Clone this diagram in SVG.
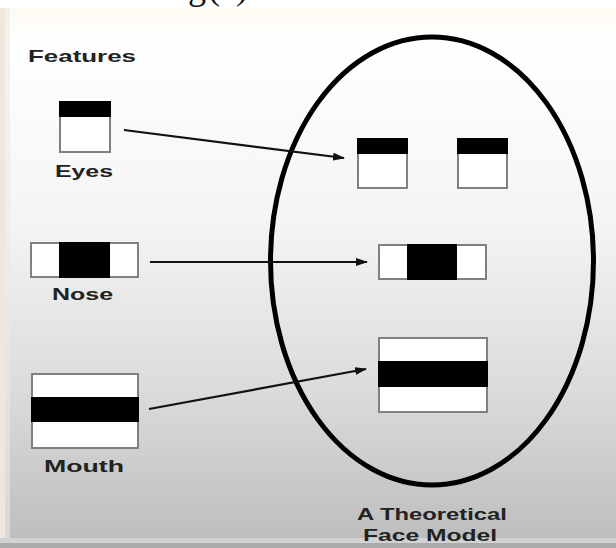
<svg xmlns="http://www.w3.org/2000/svg" width="616" height="548" viewBox="0 0 616 548">
  <defs>
    <linearGradient id="bg" x1="0" y1="0" x2="0" y2="1">
      <stop offset="0" stop-color="#fdfaf1"/>
      <stop offset="0.06" stop-color="#ffffff"/>
      <stop offset="0.4" stop-color="#f4f4f4"/>
      <stop offset="0.7" stop-color="#dcdcdc"/>
      <stop offset="1" stop-color="#bcbcbc"/>
    </linearGradient>
    <marker id="arrow" markerWidth="12" markerHeight="8" refX="11" refY="4" orient="auto" markerUnits="userSpaceOnUse">
      <path d="M0,0 L12,4 L0,8 Z" fill="#111"/>
    </marker>
    <style>
      .lbl { font-family: "Liberation Sans", Arial, sans-serif; font-weight: bold; fill: #222; }
      .box { fill: #ffffff; stroke: #808080; stroke-width: 2; }
      .band { fill: #000000; }
      .conn { stroke: #111; stroke-width: 2.2; fill: none; marker-end: url(#arrow); }
    </style>
  </defs>

  <rect x="0" y="0" width="616" height="548" fill="#ffffff"/>
  <text x="188" y="-1" font-family="'Liberation Serif', 'Times New Roman', serif" font-size="36" fill="#111" textLength="60" lengthAdjust="spacing">g(·)</text>

  <!-- panel -->
  <rect x="0" y="8" width="616" height="540" fill="url(#bg)"/>
  <rect x="0" y="8" width="5" height="540" fill="#efe8da"/>
  <rect x="5" y="8" width="5" height="540" fill="#ece9e6" opacity="0.6"/>
  <rect x="0" y="538" width="616" height="5" fill="#d2d2d2"/>
  <rect x="0" y="543" width="616" height="5" fill="#ababab"/>

  <text class="lbl" x="28" y="62" font-size="17" textLength="108" lengthAdjust="spacingAndGlyphs">Features</text>

  <!-- face outline -->
  <g id="face">
    <ellipse cx="432" cy="261" rx="161.5" ry="224" fill="none" stroke="#000" stroke-width="5"/>
    <text class="lbl" x="357" y="520" font-size="17" textLength="150" lengthAdjust="spacingAndGlyphs">A Theoretical</text>
    <text class="lbl" x="363" y="541" font-size="17" textLength="134" lengthAdjust="spacingAndGlyphs">Face Model</text>
  </g>

  <!-- feature nodes -->
  <g id="feature-eyes">
    <rect class="box" x="60" y="102" width="50" height="50"/>
    <rect class="band" x="59" y="101" width="52" height="16"/>
    <text class="lbl" x="55" y="177" font-size="16" textLength="58" lengthAdjust="spacingAndGlyphs">Eyes</text>
  </g>
  <g id="feature-nose">
    <rect class="box" x="31" y="243" width="107" height="34"/>
    <rect class="band" x="59" y="242" width="51" height="36"/>
    <text class="lbl" x="52" y="300" font-size="16" textLength="61" lengthAdjust="spacingAndGlyphs">Nose</text>
  </g>
  <g id="feature-mouth">
    <rect class="box" x="32" y="374" width="106" height="74"/>
    <rect class="band" x="31" y="397" width="108" height="25"/>
    <text class="lbl" x="44" y="472" font-size="17" textLength="80" lengthAdjust="spacingAndGlyphs">Mouth</text>
  </g>

  <!-- face model nodes -->
  <g id="face-eye-left">
    <rect class="box" x="358" y="139" width="49" height="49"/>
    <rect class="band" x="357" y="138" width="51" height="16"/>
  </g>
  <g id="face-eye-right">
    <rect class="box" x="458" y="139" width="49" height="49"/>
    <rect class="band" x="457" y="138" width="51" height="16"/>
  </g>
  <g id="face-nose">
    <rect class="box" x="379" y="245" width="107" height="34"/>
    <rect class="band" x="407" y="244" width="50" height="36"/>
  </g>
  <g id="face-mouth">
    <rect class="box" x="379" y="338" width="108" height="74"/>
    <rect class="band" x="378" y="361" width="110" height="26"/>
  </g>

  <!-- connectors -->
  <g id="connectors">
    <line class="conn" x1="124" y1="130" x2="344" y2="158"/>
    <line class="conn" x1="150" y1="262" x2="367" y2="262"/>
    <line class="conn" x1="149" y1="409" x2="366" y2="369"/>
  </g>
</svg>
